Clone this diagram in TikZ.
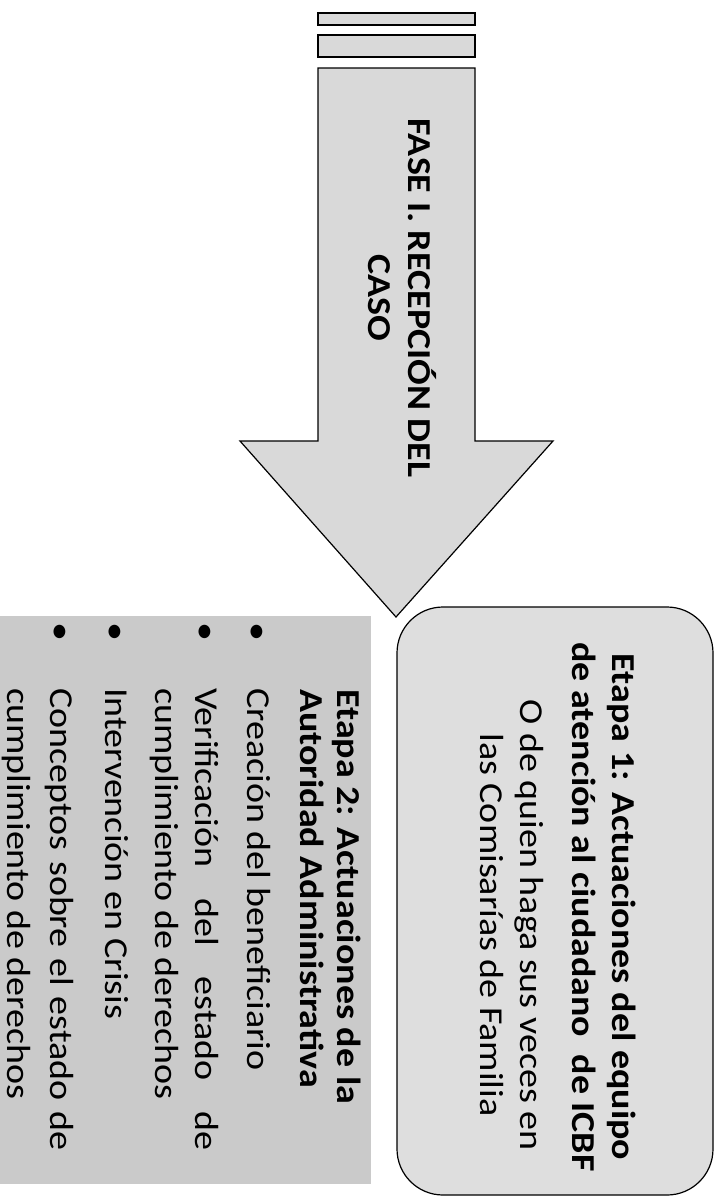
\documentclass[tikz,border=0pt]{standalone}
\usepackage{fontspec}
\setmainfont{Carlito}
\newcommand\ftreg{\fontsize{38}{45}\selectfont}
\newcommand\ftbold{\fontsize{38}{45}\selectfont\bfseries}
\definecolor{arrowgray}{RGB}{217,217,217}
\definecolor{boxgray}{RGB}{202,202,202}
\definecolor{roundgray}{RGB}{222,222,222}
\begin{document}
\begin{tikzpicture}[x=1pt,y=-1pt,
  vt/.style={rotate=-90, yscale=0.88, inner sep=0pt, font=\ftreg},
  vtb/.style={vt, font=\ftbold},
  outline/.style={draw=black, line width=1.2pt, line join=miter},
  bulletmark/.style={vt, anchor=base}]
\useasboundingbox (0,0) rectangle (723,1203);
\fill[white] (0,0) rectangle (723,1203);
% block arrow
\draw[outline, fill=arrowgray] (318,13) rectangle (475,25);
\draw[outline, fill=arrowgray] (318,35) rectangle (475,57);
\draw[outline, fill=arrowgray] (318,68) -- (475,68) -- (475,441) -- (553,441)
  -- (396,617) -- (240,441) -- (318,441) -- cycle;
\node[vtb, anchor=base] (fase1) at (408,298) {FASE I. RECEPCIÓN DEL};
\node[vtb, anchor=base] (fase2) at (368,298) {CASO};
% etapa 1 box
\draw[outline, fill=roundgray, rounded corners=46pt] (397,607) rectangle (713,1195);
\node[vtb, anchor=base] (e1a) at (612,907) {Etapa 1: Actuaciones del equipo};
\node[vtb, anchor=base] (e1b) at (572,907) {de atención al ciudadano\ \ de ICBF};
\node[vt, anchor=base] (e1c) at (520,925) {O de quien haga sus veces en};
\node[vt, anchor=base] (e1d) at (480,925) {las Comisarías de Familia};
% etapa 2 box
\fill[boxgray] (0,616) rectangle (371,1184);
\node[vtb, anchor=base west] (e2a) at (337,689) {Etapa 2: Actuaciones de la};
\node[vtb, anchor=base west] (e2b) at (300,689) {Autoridad Administrativa};
\node[bulletmark] (b1) at (247,632) {•};
\node[bulletmark] (b2) at (195,632) {•};
\node[bulletmark] (b3) at (105,632) {•};
\node[bulletmark] (b4) at (50,632) {•};
\node[vt, anchor=base west] (i1) at (247,688) {Creación del beneficiario};
\node[vt, anchor=base west] (i2a) at (195,688) {\hbox to 462pt{Verificación\hfill del\hfill estado\hfill de}};
\node[vt, anchor=base west] (i2b) at (155,688) {cumplimiento de derechos};
\node[vt, anchor=base west] (i3) at (105,688) {Intervención en Crisis};
\node[vt, anchor=base west] (i4a) at (50,688) {\hbox to 462pt{Conceptos\hfill sobre\hfill el\hfill estado\hfill de}};
\node[vt, anchor=base west] (i4b) at (7,688) {cumplimiento de derechos};
\end{tikzpicture}
\end{document}
